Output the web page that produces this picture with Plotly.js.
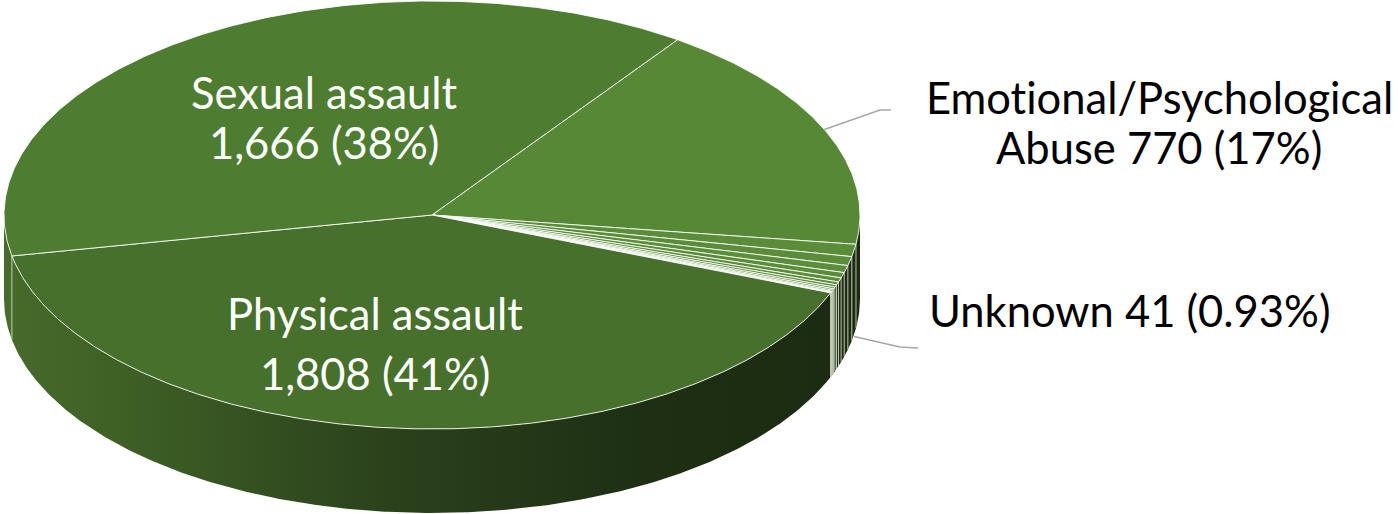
<!DOCTYPE html>
<html><head><meta charset="utf-8">
<script src="https://cdn.plot.ly/plotly-3.0.1.min.js"></script>
<style>html,body{margin:0;padding:0;background:#fff;}#chart{width:1398px;height:514px;}
text{font-variant-ligatures:none;font-feature-settings:"liga" 0;}</style>
</head><body><div id="chart"></div>
<script>
// ---- data ----
const categories = ['Emotional/Psychological Abuse', 'Unknown',
  'Other 1', 'Other 2', 'Other 3', 'Other 4', 'Other 5', 'Other 6',
  'Other 7', 'Other 8', 'Other 9', 'Other 10', 'Other 11',
  'Physical assault', 'Sexual assault'];
const values = [770, 41, 30, 24, 18, 14, 10, 8, 6, 5, 4, 3, 2, 1808, 1666];
const topColors = ['#568836', '#5a8c39', '#5a8c39', '#5b8d3a', '#5a8c39', '#5b8d3a', '#5a8c39',
  '#5b8d3a', '#5a8c39', '#5b8d3a', '#5a8c39', '#5b8d3a', '#5a8c39', '#47702c', '#4e7c31'];
// labelled slices: first-line text (rest goes on the second line)
const labelFirstLine = {
  'Sexual assault': 'Sexual assault',
  'Physical assault': 'Physical assault',
  'Emotional/Psychological Abuse': 'Emotional/Psychological',
  'Unknown': null
};

// ---- geometry (style / layout) ----
const W = 1398, H = 514;
const cx = 432, cy = 215, rx = 428, ry = 214, depth = 84, startAngle = 35;
const total = values.reduce((a, b) => a + b, 0);
function P(t, dy) { const r = t * Math.PI / 180; return [cx + rx * Math.sin(r), cy - ry * Math.cos(r) + (dy || 0)]; }
function arc(a, b, dy) {
  const n = Math.max(2, Math.ceil(Math.abs(b - a) / 0.4));
  const pts = [];
  for (let i = 0; i <= n; i++) pts.push(P(a + (b - a) * i / n, dy));
  return pts;
}
const angles = [];
let acc = startAngle;
values.forEach(v => { const a = acc; acc += v / total * 360; angles.push([a, acc]); });

const sideScale = [[0, '#476b2b'], [0.15, '#3d5f25'], [0.45, '#2b411c'], [0.75, '#1e2f13'], [1, '#1c2b11']];
const traces = [];
// side walls (front half only: 90..270 deg)
angles.forEach(([a, b], i) => {
  [0, 1].forEach(k => {
    const lo = Math.max(a, 90 + 360 * k), hi = Math.min(b, 270 + 360 * k);
    if (hi > lo) {
      const pts = arc(lo, hi, 0).concat(arc(hi, lo, depth));
      traces.push({
        type: 'scatter', mode: 'lines', x: pts.map(p => p[0]), y: pts.map(p => p[1]),
        fill: 'toself', line: { width: 0, color: 'rgba(0,0,0,0)' },
        fillgradient: { type: 'horizontal', start: cx - rx, stop: cx + rx, colorscale: sideScale },
        hoverinfo: 'skip', showlegend: false
      });
    }
  });
});
// rim edges at slice boundaries
const rx_ = [], ry_ = [];
angles.forEach(([a]) => {
  const t = ((a % 360) + 360) % 360;
  if (t > 90 && t < 270) {
    const p0 = P(t, 0), p1 = P(t, depth);
    rx_.push(p0[0], p1[0], null); ry_.push(p0[1], p1[1], null);
  }
});
traces.push({ type: 'scatter', mode: 'lines', x: rx_, y: ry_, line: { color: 'rgba(215,228,205,0.8)', width: 1 }, hoverinfo: 'skip', showlegend: false });
// top faces
angles.forEach(([a, b], i) => {
  const pts = [[cx, cy]].concat(arc(a, b, 0)).concat([[cx, cy]]);
  traces.push({
    type: 'scatter', mode: 'lines', x: pts.map(p => p[0]), y: pts.map(p => p[1]),
    fill: 'toself', fillcolor: topColors[i], line: { color: 'rgba(255,255,255,0.85)', width: 1 },
    name: categories[i], hoveron: 'fills', text: categories[i] + ': ' + values[i], hoverinfo: 'text', showlegend: false
  });
});

// ---- labels ----
function fmt(v) {
  const pct = v / total * 100;
  const ps = pct < 1 ? pct.toFixed(2) : String(Math.round(pct));
  return v.toLocaleString('en-US') + ' (' + ps + '%)';
}
function lines(cat) {
  const full = cat + ' ' + fmt(values[categories.indexOf(cat)]);
  const first = labelFirstLine[cat];
  if (!first) return [full];
  return [first, full.slice(first.length + 1)];
}
const font = 'Lato, "Open Sans", sans-serif';
const labelPos = {
  'Sexual assault': { x: 324, y: [92, 142], color: '#ffffff' },
  'Physical assault': { x: 375, y: [313, 373], color: '#ffffff' },
  'Emotional/Psychological Abuse': { x: 1159, y: [97, 147], color: '#000000' },
  'Unknown': { x: 1130, y: [310], color: '#000000' }
};
const annotations = [];
Object.keys(labelPos).forEach(cat => {
  const L = lines(cat), pos = labelPos[cat];
  L.forEach((s, j) => annotations.push({
    x: pos.x, y: pos.y[j], xref: 'x', yref: 'y', text: s, showarrow: false,
    xanchor: 'center', yanchor: 'middle', font: { family: font, size: 43.5, color: pos.color }
  }));
});
// leader lines
const emoIdx = categories.indexOf('Emotional/Psychological Abuse');
const unkIdx = categories.indexOf('Unknown');
const emoMid = P((angles[emoIdx][0] + angles[emoIdx][1]) / 2, 0);
const unkMid = P((angles[unkIdx][0] + angles[unkIdx][1]) / 2, depth);
const shapes = [
  { type: 'path', xref: 'x', yref: 'y', path: `M${emoMid[0]},${emoMid[1]} L880,110 L891,110`, line: { color: '#a6a6a6', width: 1.5 } },
  { type: 'path', xref: 'x', yref: 'y', path: `M${unkMid[0]},${unkMid[1] + 2} L900,347 L918,348`, line: { color: '#a6a6a6', width: 1.5 } }
];

const layout = {
  width: W, height: H, margin: { l: 0, r: 0, t: 0, b: 0 },
  paper_bgcolor: '#ffffff', plot_bgcolor: '#ffffff',
  xaxis: { range: [0, W], visible: false, fixedrange: true },
  yaxis: { range: [H, 0], visible: false, fixedrange: true },
  showlegend: false, annotations: annotations, shapes: shapes, hovermode: 'closest'
};
Plotly.newPlot('chart', traces, layout, { displayModeBar: false });
</script></body></html>
